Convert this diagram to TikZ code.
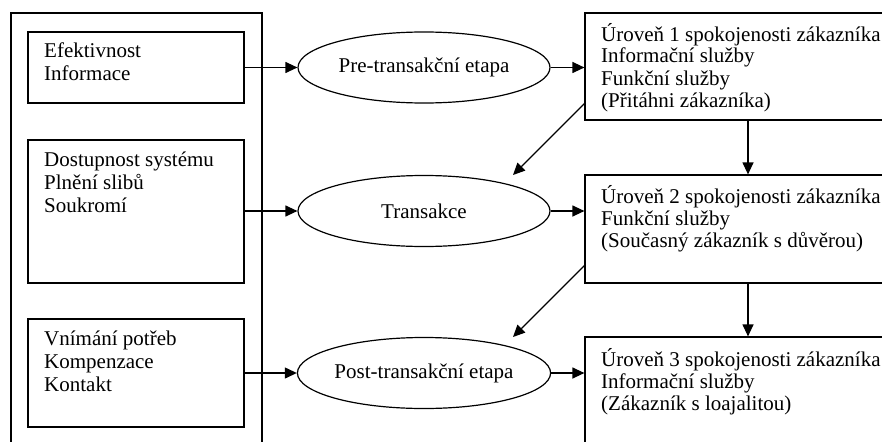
\documentclass[tikz,border=0pt]{standalone}
\usepackage{fontspec}
\setmainfont{Liberation Serif}
\usetikzlibrary{shapes.geometric,arrows.meta}
\begin{document}
\begin{tikzpicture}[x=1pt,y=-1pt,
  every node/.style={font=\fontsize{21}{22}\selectfont},
  frame/.style={draw,line width=1.2pt,inner sep=0pt},
  stage/.style={draw,ellipse,line width=1.2pt,inner sep=0pt,
                minimum width=252pt,minimum height=71pt},
  itemtext/.style={anchor=base west,align=left,inner sep=0pt},
  widetext/.style={itemtext,font=\fontsize{21}{23}\selectfont},
  arr/.style={line width=1.2pt,-{Triangle[length=12pt,width=11pt]}}]
\clip (0,0) rectangle (882,441);

% container of the quality dimensions
\node[frame,minimum width=251pt,minimum height=460pt] (outer) at (136.5,243) {};

% quality dimensions (text anchored at the baseline of its last line)
\node[frame,minimum width=216pt,minimum height=71pt]  (b1) at (136,67.5) {};
\node[frame,minimum width=216pt,minimum height=143pt] (b2) at (136,211.5) {};
\node[frame,minimum width=216pt,minimum height=108pt] (b3) at (136,373) {};
\node[widetext] (t1) at (44,81)  {Efektivnost\\Informace};
\node[widetext] (t2) at (44,212) {Dostupnost systému\\Plnění slibů\\Soukromí};
\node[widetext] (t3) at (44,391) {Vnímání potřeb\\Kompenzace\\Kontakt};

% transaction stages
\node[stage] (e1) at (424,67.5) {Pre-transakční etapa};
\node[stage] (e2) at (424,211)  {Transakce};
\node[stage] (e3) at (424,373)  {Post-transakční etapa};

% satisfaction levels
\node[frame,minimum width=315pt,minimum height=107pt] (r1) at (742.5,66.5) {};
\node[frame,minimum width=315pt,minimum height=108pt] (r2) at (742.5,229) {};
\node[frame,minimum width=315pt,minimum height=133pt] (r3) at (742.5,403.5) {};
\node[itemtext] (u1) at (601,107) {Úroveň 1 spokojenosti zákazníka\\Informační služby\\Funkční služby\\(Přitáhni zákazníka)};
\node[itemtext] (u2) at (601,247) {Úroveň 2 spokojenosti zákazníka\\Funkční služby\\(Současný zákazník s důvěrou)};
\node[itemtext] (u3) at (601,410) {Úroveň 3 spokojenosti zákazníka\\Informační služby\\(Zákazník s loajalitou)};

% connectors
\draw[arr] (b1.east) -- (e1.west);
\draw[arr] (b2.east |- e2.west) -- (e2.west);
\draw[arr] (b3.east) -- (e3.west);
\draw[arr] (e1.east) -- (e1.east -| r1.west);
\draw[arr] (e2.east) -- (e2.east -| r2.west);
\draw[arr] (e3.east) -- (e3.east -| r3.west);
\draw[arr] ([xshift=5.5pt]r1.south) -- ([xshift=5.5pt]r2.north);
\draw[arr] ([xshift=5.5pt]r2.south) -- ([xshift=5.5pt]r3.north);
\coordinate (d1a) at (585,103);
\coordinate (d1b) at (513,175);
\coordinate (d2a) at (585,265);
\coordinate (d2b) at (513,337);
\draw[arr] (d1a) -- (d1b);
\draw[arr] (d2a) -- (d2b);
\end{tikzpicture}
\end{document}
